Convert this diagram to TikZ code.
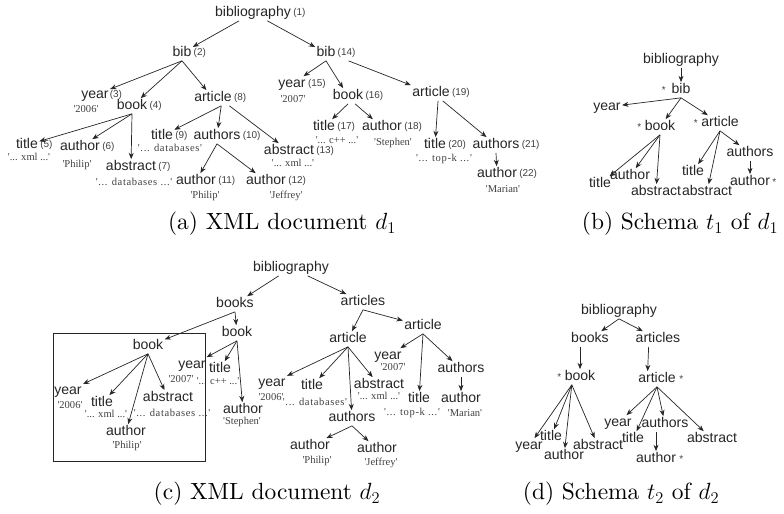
\RequirePackage{fix-cm}
\documentclass[tikz,border=0pt]{standalone}
\usepackage{fontspec}
\usepackage{tikz}
\usetikzlibrary{arrows.meta}
\newfontfamily\lblfont{Liberation Sans}
\newfontfamily\valfont{Liberation Serif}
\newfontfamily\valspaced{Liberation Serif}[LetterSpace=6]
\newfontfamily\capfont{lmroman10-regular}[Extension=.otf]

\begin{document}
\begin{tikzpicture}[x=0.03cm, y=-0.03cm,
	lbl/.style= {font=\lblfont\fontsize{12}{12}\selectfont, text=black!85, inner sep=1pt, text height=8.6pt, text depth=2.4pt},
	num/.style= {font=\lblfont\fontsize{8.5}{9}\selectfont, text=black!75, inner sep=0.6pt},
	star/.style= {num, label distance=1pt},
	val/.style= {font=\valfont\fontsize{9}{9}\selectfont, text=black!75, inner sep=0pt},
	spaced/.style= {font=\valspaced\fontsize{9}{9}\selectfont, text=black!75, inner sep=0pt},
	arr/.style= {arrows=-{Stealth[length=1.9mm, width=1.5mm]}, draw=black!85, line width=0.6pt},
	captxt/.style= {font=\capfont\fontsize{20}{22}\selectfont, inner sep=0pt}]
	\useasboundingbox (0,0) rectangle (784,514);

	% (a) document d1
	\node [lbl, label={[num]right:(1)}] (bibA) at (253,13) {bibliography};
	\node [lbl, label={[num]right:(2)}] (bib2) at (182,53) {bib};
	\node [lbl, label={[num]right:(14)}] (bib14) at (326,53) {bib};
	\node [lbl, label={[num, label distance=-1pt]right:(3)}] (year3) at (95,95) {year};
	\node [val] (v3) at (86,109) {'2006'};
	\node [lbl, label={[num]right:(4)}] (book4) at (132,106) {book};
	\node [lbl, label={[num]right:(8)}] (art8) at (213,98) {article};
	\node [lbl, label={[num]right:(15)}] (year15) at (292,84) {year};
	\node [val] (v15) at (293,99) {'2007'};
	\node [lbl, label={[num]right:(16)}] (book16) at (348,96) {book};
	\node [lbl, label={[num]right:(19)}] (art19) at (431,93) {article};
	\node [lbl, label={[num]right:(5)}] (title5) at (27,145) {title};
	\node [val] (v5) at (29,157) {'... xml ...'};
	\node [lbl, label={[num]right:(6)}] (auth6) at (80,147) {author};
	\node [val] (v6) at (77,165) {'Philip'};
	\node [lbl, label={[num]right:(7)}] (abs7) at (131,167) {abstract};
	\node [spaced] (v7) at (134,182) {'... databases ...'};
	\node [lbl, label={[num]right:(9)}] (title9) at (162,136) {title};
	\node [spaced] (v9) at (170,148) {'... databases'};
	\node [lbl, label={[num]right:(10)}] (auths10) at (217,136) {authors};
	\node [lbl, label={[num]right:(11)}] (auth11) at (196,181) {author};
	\node [val] (v11) at (205,196) {'Philip'};
	\node [lbl, label={[num]right:(12)}] (auth12) at (266,181) {author};
	\node [val] (v12) at (286,196) {'Jeffrey'};
	\node [lbl, label={[num]right:(13)}] (abs13) at (289,151) {abstract};
	\node [val] (v13) at (293,163) {'... xml ...'};
	\node [lbl, label={[num]right:(17)}] (title17) at (324,127) {title};
	\node [val] (v17) at (337,140) {'... c++ ...'};
	\node [lbl, label={[num]right:(18)}] (auth18) at (382,127) {author};
	\node [val] (v18) at (393,143) {'Stephen'};
	\node [lbl, label={[num]right:(20)}] (title20) at (435,145) {title};
	\node [spaced] (v20) at (444,159) {'... top-k ...'};
	\node [lbl, label={[num]right:(21)}] (auths21) at (496,145) {authors};
	\node [lbl, label={[num]right:(22)}] (auth22) at (497,174) {author};
	\node [val] (v22) at (503,189) {'Marian'};

	\draw [arr] (bibA) -- (bib2);
	\draw [arr] (bibA) -- (bib14);
	\draw [arr] (bib2.south) -- (year3);
	\draw [arr] (bib2.south) -- (book4);
	\draw [arr] (bib2.south) -- (art8);
	\draw [arr] (book4.south) -- (title5);
	\draw [arr] (book4.south) -- (auth6);
	\draw [arr] (book4.south) -- (abs7);
	\draw [arr] ([xshift=7]art8.south) -- (title9);
	\draw [arr] ([xshift=7]art8.south) -- (auths10);
	\draw [arr] ([xshift=14]art8.south) -- (abs13);
	\draw [arr] (auths10.south) -- (auth11);
	\draw [arr] (auths10.south) -- (auth12);
	\draw [arr] (bib14.south) -- (year15);
	\draw [arr] (bib14.south) -- (book16);
	\draw [arr] ([xshift=10]bib14.south east) -- (art19);
	\draw [arr] (book16.south) -- (title17);
	\draw [arr] ([xshift=6]book16.south) -- (auth18);
	\draw [arr] ([xshift=6]art19.south) -- (title20);
	\draw [arr] ([xshift=10]art19.south) -- (auths21);
	\draw [arr] (auths21.south) -- (auth22);

	% (b) schema t1
	\node [lbl] (bibB) at (681,60) {bibliography};
	\node [lbl, label={[star, label distance=3pt]left:*}] (bibb) at (681,90) {bib};
	\node [lbl] (yearb) at (607,107) {year};
	\node [lbl, label={[star]left:*}] (bookb) at (660,127) {book};
	\node [lbl, label={[star]left:*}] (artb) at (720,123) {article};
	\node [lbl] (titleb) at (600,184) {title};
	\node [lbl] (authb) at (630,176) {author};
	\node [lbl] (absb) at (656,192) {abstract};
	\node [lbl] (titlec) at (693,172) {title};
	\node [lbl] (absc) at (707,192) {abstract};
	\node [lbl] (authsb) at (750,153) {authors};
	\node [lbl, label={[num]right:*}] (authc) at (750,182) {author};

	\draw [arr] (bibB) -- (bibb);
	\draw [arr] (bibb.south) -- (yearb);
	\draw [arr] (bibb.south) -- (bookb);
	\draw [arr] (bibb.south) -- (artb);
	\draw [arr] (bookb.south) -- (titleb);
	\draw [arr] (bookb.south) -- (authb);
	\draw [arr] (bookb.south) -- (absb);
	\draw [arr] (artb.south) -- (titlec);
	\draw [arr] (artb.south) -- (absc);
	\draw [arr] (artb.south) -- (authsb);
	\draw [arr] (authsb.south) -- (authc);

	% (c) document d2
	\node [lbl] (bibC) at (291,268) {bibliography};
	\node [lbl] (books) at (235,304) {books};
	\node [lbl] (articles) at (363,302) {articles};
	\node [lbl] (bookL) at (148,346) {book};
	\node [lbl] (bookR) at (237,333) {book};
	\node [lbl] (yearL) at (68,391) {year};
	\node [val] (vyL) at (70,405) {'2006'};
	\node [lbl] (titleL) at (102,403) {title};
	\node [val] (vtL) at (106,414) {'... xml ...'};
	\node [lbl] (authL) at (126,432) {author};
	\node [val] (vaL) at (127,446) {'Philip'};
	\node [lbl] (absL) at (168,398) {abstract};
	\node [spaced] (vbL) at (172,413) {'... databases ...'};
	\node [lbl] (yearR) at (192,365) {year};
	\node [val] (vyR) at (181,379) {'2007'};
	\node [lbl] (titleR) at (220,369) {title};
	\node [val] (vtR) at (218,381) {'... c++ ...'};
	\node [lbl] (authR) at (243,410) {author};
	\node [val] (vaR) at (242,422) {'Stephen'};
	\draw [black!85, line width=0.6pt] (53,333) rectangle (205,461);

	\node [lbl] (artL) at (348,339) {article};
	\node [lbl] (artR) at (423,326) {article};
	\node [lbl] (yearA) at (272,383) {year};
	\node [val] (vyA) at (271,397) {'2006'};
	\node [lbl] (titleA) at (312,386) {title};
	\node [spaced] (vtA) at (315,402) {'... databases'};
	\node [lbl] (absA) at (379,385) {abstract};
	\node [val] (vbA) at (379,396) {'... xml ...'};
	\node [lbl] (authsA) at (352,418) {authors};
	\node [lbl] (authA1) at (310,446) {author};
	\node [val] (va1) at (317,461) {'Philip'};
	\node [lbl] (authA2) at (377,449) {author};
	\node [val] (va2) at (381,463) {'Jeffrey'};
	\node [lbl] (yearB) at (388,356) {year};
	\node [val] (vyB) at (393,367) {'2007'};
	\node [lbl] (titleB) at (419,399) {title};
	\node [spaced] (vtB) at (412,413) {'... top-k ...'};
	\node [lbl] (authsB) at (461,369) {authors};
	\node [lbl] (authB) at (461,399) {author};
	\node [val] (vaB) at (465,413) {'Marian'};

	\draw [arr] (bibC) -- (books);
	\draw [arr] (bibC) -- (articles);
	\draw [arr] (books.south) -- (bookL);
	\draw [arr] (books.south) -- (bookR);
	\draw [arr] (articles.south) -- (artL);
	\draw [arr] (articles.south) -- (artR);
	\draw [arr] (bookL.south) -- (yearL);
	\draw [arr] (bookL.south) -- (titleL);
	\draw [arr] (bookL.south) -- (authL);
	\draw [arr] (bookL.south) -- (absL);
	\draw [arr] (bookR.south) -- (yearR);
	\draw [arr] (bookR.south) -- (titleR);
	\draw [arr] (bookR.south) -- (authR);
	\draw [arr] (artL.south) -- (yearA);
	\draw [arr] (artL.south) -- (titleA);
	\draw [arr] (artL.south) -- (absA);
	\draw [arr] (artL.south) -- (authsA);
	\draw [arr] (artR.south) -- (yearB);
	\draw [arr] (artR.south) -- (titleB);
	\draw [arr] (artR.south) -- (authsB);
	\draw [arr] (authsB) -- (authB);
	\draw [arr] (authsA.south) -- (authA1);
	\draw [arr] (authsA.south) -- (authA2);

	% (d) schema t2
	\node [lbl] (bibD) at (619,311) {bibliography};
	\node [lbl] (booksD) at (590,339) {books};
	\node [lbl] (articlesD) at (658,339) {articles};
	\node [lbl, label={[star]left:*}] (bookD) at (580,377) {book};
	\node [lbl, label={[star]right:*}] (artD) at (657,379) {article};
	\node [lbl] (yearD) at (529,446) {year};
	\node [lbl] (titleD) at (551,437) {title};
	\node [lbl] (authD) at (564,456) {author};
	\node [lbl] (absD) at (598,446) {abstract};
	\node [lbl] (yearE) at (618,423) {year};
	\node [lbl] (titleE) at (633,439) {title};
	\node [lbl] (authsE) at (665,424) {authors};
	\node [lbl] (absE) at (712,439) {abstract};
	\node [lbl, label={[star]right:*}] (authE) at (656,459) {author};

	\draw [arr] (bibD.south) -- (booksD);
	\draw [arr] (bibD.south) -- (articlesD);
	\draw [arr] (bookD.north |- booksD.south) -- (bookD.north);
	\draw [arr] ([xshift=-8]articlesD.south) -- ([xshift=-8]artD.north);
	\draw [arr] ([xshift=-7]bookD.south) -- (yearD);
	\draw [arr] ([xshift=-7]bookD.south) -- (titleD);
	\draw [arr] ([xshift=-7]bookD.south) -- (authD);
	\draw [arr] ([xshift=-7]bookD.south) -- (absD);
	\draw [arr] (artD.south) -- (yearE);
	\draw [arr] (artD.south) -- (titleE);
	\draw [arr] (artD.south) -- (authsE);
	\draw [arr] (artD.south) -- (absE);
	\draw [arr] (authE.north |- authsE.south) -- (authE.north);

	% captions
	\node [captxt] (capA) at (282,224) {(a) XML document $d_1$};
	\node [captxt] (capB) at (680,224) {(b) Schema $t_1$ of $d_1$};
	\node [captxt] (capC) at (267,494) {(c) XML document $d_2$};
	\node [captxt] (capD) at (621,494) {(d) Schema $t_2$ of $d_2$};
\end{tikzpicture}
\end{document}
